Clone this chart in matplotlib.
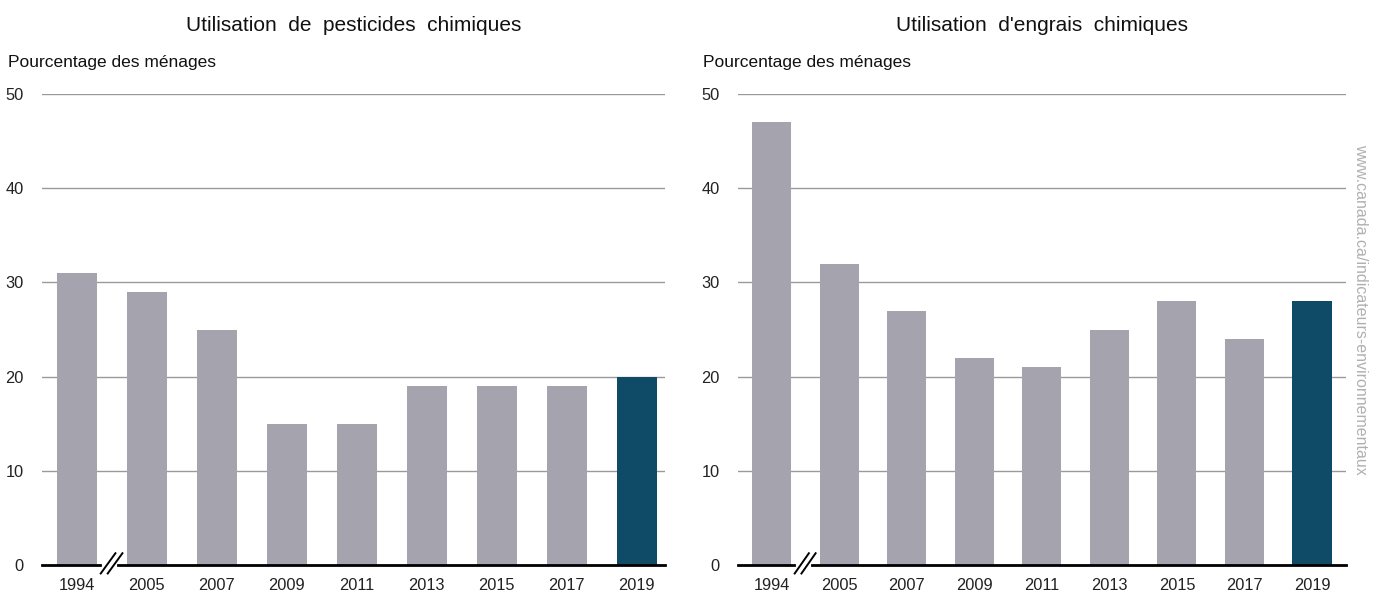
import matplotlib
matplotlib.use("Agg")
import matplotlib.pyplot as plt
import matplotlib.transforms as mtransforms
import numpy as np

plt.rcParams['font.family'] = ['Liberation Sans', 'DejaVu Sans']

years = ['1994', '2005', '2007', '2009', '2011', '2013', '2015', '2017', '2019']
pesticides = [31, 29, 25, 15, 15, 19, 19, 19, 20]
engrais = [47, 32, 27, 22, 21, 25, 28, 24, 28]

titles = ['Utilisation  de  pesticides  chimiques', "Utilisation  d'engrais  chimiques"]
ylabel = 'Pourcentage des ménages'
source = 'www.canada.ca/indicateurs-environnementaux'

grey = '#a5a3ae'
dark = '#0f4a66'

fig = plt.figure(figsize=(13.75, 5.95), dpi=100)


def draw_panel(ax, values, title, xmax):
    x = np.arange(len(years))
    colors = [grey] * (len(years) - 1) + [dark]
    ax.bar(x, values, width=0.58, color=colors, zorder=3)
    ax.set_xlim(-0.5, xmax)
    ax.set_ylim(0, 50)
    ax.set_yticks([0, 10, 20, 30, 40, 50])
    ax.set_xticks(x)
    ax.set_xticklabels(years)
    ax.tick_params(axis='both', length=0, labelsize=11.8, colors='#222222')
    ax.tick_params(axis='y', pad=13)
    ax.tick_params(axis='x', pad=9)
    for s in ax.spines.values():
        s.set_visible(False)
    for v in [10, 20, 30, 40, 50]:
        ax.axhline(v, color='#9a9a9a', lw=1, zorder=1)
    # axe zero avec coupure
    ax.plot([-0.5, 0.33], [0, 0], color='black', lw=2, zorder=4, clip_on=False)
    ax.plot([0.59, xmax], [0, 0], color='black', lw=2, zorder=4, clip_on=False)
    trans = mtransforms.blended_transform_factory(ax.transData, ax.transAxes)
    for dx in [0.0, 0.1]:
        ax.plot([0.34 + dx, 0.55 + dx], [-0.018, 0.025], color='black', lw=1.4,
                transform=trans, clip_on=False, zorder=5)
    ax.text(0.5, 1.145, title, transform=ax.transAxes, ha='center', va='center',
            fontsize=15, color='#111111')


ax1 = fig.add_axes([0.0305, 0.0504, 0.453, 0.7916])
draw_panel(ax1, pesticides, titles[0], 8.4)
ax2 = fig.add_axes([0.5367, 0.0504, 0.442, 0.7916])
draw_panel(ax2, engrais, titles[1], 8.5)

fig.text(8 / 1375, 1 - 62 / 595, ylabel, ha='left', va='center', fontsize=12.5, color='#111111')
fig.text(703 / 1375, 1 - 62 / 595, ylabel, ha='left', va='center', fontsize=12.5, color='#111111')
fig.text(1361 / 1375, 1 - 309 / 595, source, rotation=-90, ha='center', va='center',
         fontsize=11.5, color='#b0b0b0')

fig.savefig('out.png', dpi=100)
